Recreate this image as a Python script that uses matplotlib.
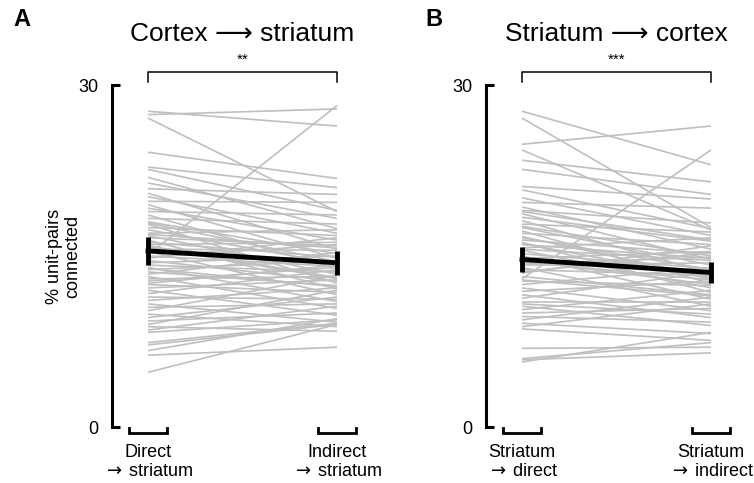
import numpy as np
import matplotlib
matplotlib.use('Agg')
from matplotlib import pyplot as plt

plt.rcParams['font.family'] = ['Liberation Sans', 'DejaVu Sans']
plt.rcParams['mathtext.fontset'] = 'dejavusans'

# paired % unit-pairs connected, (first group, second group) per recording
cs_first = [27.7, 27.4, 27.1, 24.1, 22.8, 22.6, 21.9, 21.4, 20.9, 20.5, 20.2, 19.8, 19.5, 19.2,
            18.9, 18.6, 18.3, 18.0, 17.8, 17.5, 17.3, 17.0, 16.8, 16.6, 16.4, 16.2, 16.0, 15.8,
            15.6, 15.4, 15.1, 15.0, 14.8, 14.6, 14.4, 14.2, 14.0, 13.8, 13.6, 13.4, 13.2, 13.0,
            12.8, 12.5, 12.2, 12.0, 11.7, 11.4, 11.1, 10.8, 10.5, 10.2, 9.9, 9.6, 9.3, 9.0,
            8.8, 8.5, 8.3, 7.4, 7.2, 6.7, 6.3, 4.8, 17.9, 16.9, 15.9, 14.9, 13.9, 12.6]
cs_second = [26.4, 27.9, 18.9, 21.8, 21.0, 19.0, 17.4, 18.3, 20.4, 15.6, 17.0, 19.7, 14.8, 16.4,
             18.6, 13.9, 17.8, 15.2, 12.6, 16.8, 14.3, 17.3, 13.4, 15.9, 12.1, 14.9, 16.2, 13.0,
             15.5, 11.6, 28.2, 14.1, 16.6, 12.8, 15.0, 13.6, 11.0, 14.6, 12.4, 15.3, 10.4, 13.2,
             14.0, 11.8, 12.9, 9.8, 13.8, 11.2, 12.2, 9.2, 10.8, 13.3, 8.8, 11.4, 10.0, 12.0,
             8.4, 10.6, 9.4, 9.1, 9.0, 9.5, 7.0, 9.0, 14.5, 15.7, 13.1, 16.0, 12.3, 14.2]

sc_first = [27.7, 27.1, 24.8, 24.3, 23.4, 22.6, 21.1, 20.8, 20.1, 19.7, 19.3, 19.0, 18.7, 18.4,
            18.1, 17.8, 17.5, 17.2, 17.0, 16.7, 16.4, 16.2, 16.0, 15.7, 15.5, 15.2, 15.0, 14.8,
            14.5, 14.2, 14.0, 13.8, 13.5, 13.2, 13.0, 12.8, 12.5, 12.2, 11.9, 11.6, 11.3, 11.0,
            10.6, 10.3, 10.0, 9.7, 9.4, 9.1, 8.8, 8.6, 6.9, 6.0, 5.7, 5.9, 17.6, 16.6, 15.6,
            14.6, 13.6, 18.9, 12.9, 16.1, 10.8, 14.3]
sc_second = [23.0, 17.5, 26.4, 17.3, 21.5, 20.4, 20.0, 17.4, 16.8, 19.2, 15.6, 17.9, 14.7, 16.3,
             13.5, 17.1, 14.2, 12.6, 16.0, 13.1, 15.2, 11.8, 14.8, 16.6, 12.2, 13.9, 11.2, 15.4,
             12.9, 14.4, 10.6, 13.3, 15.9, 11.6, 24.3, 12.4, 14.0, 10.2, 12.8, 9.6, 13.6, 11.0,
             8.9, 12.0, 10.4, 9.2, 11.4, 8.2, 10.8, 7.6, 7.0, 7.4, 8.3, 6.5, 15.0, 13.8, 14.6,
             12.5, 15.3, 16.4, 11.5, 13.0, 9.9, 14.9]

cs_mean = [15.45, 14.4]
cs_sem = [1.2, 1.05]
sc_mean = [14.7, 13.55]
sc_sem = [1.1, 0.9]

arrow = r'$\rightarrow\,$'
panels = [
  dict(letter='A', title='Cortex \u27f6 striatum', stars='**',
       first=cs_first, second=cs_second, mean=cs_mean, sem=cs_sem,
       labels=['Direct\n' + arrow + 'striatum', 'Indirect\n' + arrow + 'striatum'],
       left=112, letter_x=13),
  dict(letter='B', title='Striatum \u27f6 cortex', stars='***',
       first=sc_first, second=sc_second, mean=sc_mean, sem=sc_sem,
       labels=['Striatum\n' + arrow + 'direct', 'Striatum\n' + arrow + 'indirect'],
       left=486, letter_x=425),
]

W, H = 754, 483
fig = plt.figure(figsize=(W / 100, H / 100), dpi=100)

unit = 189.0   # px between the two groups
x0 = 36.0      # px from spine to first group
ax_w, ax_h = 250, 342

for p in panels:
  ax = fig.add_axes([p['left'] / W, 56 / H, ax_w / W, ax_h / H])
  ax.set_xlim(-x0 / unit, (ax_w - x0) / unit)
  ax.set_ylim(0, 30)

  for a, b in zip(p['first'], p['second']):
    ax.plot([0, 1], [a, b], color='#bfbfc1', lw=1.2, zorder=1, solid_capstyle='butt')

  ax.errorbar([0, 1], p['mean'], yerr=p['sem'], color='black', lw=3.5,
              elinewidth=3.5, capsize=0, zorder=3)

  for s in ['top', 'right', 'bottom']:
    ax.spines[s].set_visible(False)
  ax.spines['left'].set_linewidth(2.2)
  ax.spines['left'].set_capstyle('projecting')
  ax.set_yticks([0, 30])
  ax.tick_params(axis='y', direction='in', length=6, width=2.2, labelsize=13, pad=10)

  ax.set_xticks([0, 1])
  ax.set_xticklabels(p['labels'], fontsize=13, multialignment='center')
  ax.tick_params(axis='x', length=0, pad=12)

  # group brackets under the axis
  for c in [0, 1]:
    ax.plot([c - 0.1, c - 0.1, c + 0.1, c + 0.1], [-0.1, -0.5, -0.5, -0.1],
            color='black', lw=2, clip_on=False, solid_joinstyle='miter')

  # significance bracket
  ax.plot([0, 0, 1, 1], [30.3, 31.1, 31.1, 30.3], color='black', lw=1.1, clip_on=False)
  ax.text(0.5, 31.6, p['stars'], ha='center', va='bottom', fontsize=11)

  if p['letter'] == 'A':
    ax.set_ylabel('% unit-pairs\nconnected', fontsize=13, linespacing=1.1)
    ax.yaxis.set_label_coords(-31 / ax_w, 0.5)

  cx = p['left'] + x0 + unit * 0.5
  fig.text(cx / W, 1 - 34 / H, p['title'], ha='center', va='center', fontsize=19)
  fig.text(p['letter_x'] / W, 1 - 19 / H, p['letter'], ha='left', va='center',
           fontsize=17, fontweight='bold')

fig.savefig('out.png', dpi=100)
